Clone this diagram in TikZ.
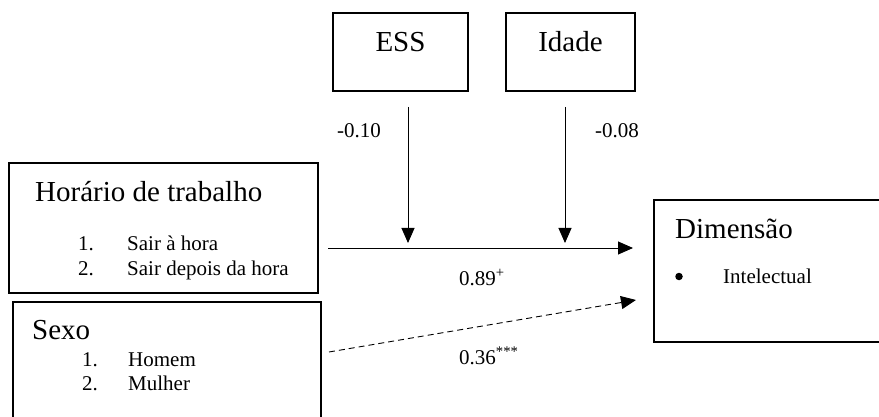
\documentclass[tikz,border=0pt]{standalone}
\usepackage{fontspec}
\setmainfont{Liberation Serif}
\usetikzlibrary{arrows.meta}

\tikzset{
  box/.style={draw, line width=1.4pt, rectangle, inner sep=0pt},
  title/.style={anchor=base west, inner sep=0pt, font=\fontsize{29}{32}\selectfont},
  ctitle/.style={anchor=base, inner sep=0pt, font=\fontsize{29}{32}\selectfont},
  item/.style={anchor=base west, inner sep=0pt, font=\fontsize{21}{24}\selectfont},
  dot/.style={circle, fill, inner sep=0pt, minimum size=7.5pt},
  path/.style={line width=0.9pt, -{Triangle[length=15pt,width=13pt]}},
  weak/.style={path, dash pattern=on 6pt off 4pt}
}

\begin{document}
\begin{tikzpicture}[x=1pt, y=-1pt]
  \useasboundingbox (0,0) rectangle (879,417);
  \clip (0,0) rectangle (879,417);

  % predictor and outcome boxes
  \node[box, minimum width=309pt, minimum height=130pt] (hor) at (163.5,228) {};
  \node[box, minimum width=308pt, minimum height=150pt] (sexo) at (167,377) {};
  \node[box, minimum width=135pt, minimum height=78pt] (ess) at (400.5,52) {};
  \node[box, minimum width=129pt, minimum height=78pt] (idade) at (570.5,52) {};
  \node[box, minimum width=260pt, minimum height=142pt] (dim) at (784,271) {};

  % box contents
  \node[title] (horT) at (35,202) {Horário de trabalho};
  \node[item] (h1n) at (78,251) {1.};
  \node[item] (h1) at (127,251) {Sair à hora};
  \node[item] (h2n) at (78,275) {2.};
  \node[item] (h2) at (127,275) {Sair depois da hora};

  \node[title] (sexoT) at (32,339) {Sexo};
  \node[item] (s1n) at (82,366) {1.};
  \node[item] (s1) at (128,366) {Homem};
  \node[item] (s2n) at (82,390) {2.};
  \node[item] (s2) at (128,390) {Mulher};

  \node[ctitle] (essT) at (400.5,52) {ESS};
  \node[ctitle] (idadeT) at (570.5,52) {Idade};

  \node[title] (dimT) at (675,238) {Dimensão};
  \node[dot] (bul) at (679,276.5) {};
  \node[item] (intel) at (723,283) {Intelectual};

  % connector end points
  \coordinate (hs) at (328,248);
  \coordinate (he) at (633,248);
  \coordinate (es) at (408,107);
  \coordinate (ee) at (408,243);
  \coordinate (is) at (565,107);
  \coordinate (ie) at (565,243);
  \coordinate (ds) at (329,352);
  \coordinate (de) at (636,300);

  % connectors
  \draw[path] (hs) -- (he);
  \draw[path] (es) -- (ee);
  \draw[path] (is) -- (ie);
  \draw[weak] (ds) -- (de);

  % coefficients
  \node[item] (cEss) at (337,138) {-0.10};
  \node[item] (cIdade) at (595,138) {-0.08};
  \node[item] (cHor) at (459,285) {0.89\textsuperscript{+}};
  \node[item] (cSexo) at (459,364) {0.36\textsuperscript{***}};
\end{tikzpicture}
\end{document}
